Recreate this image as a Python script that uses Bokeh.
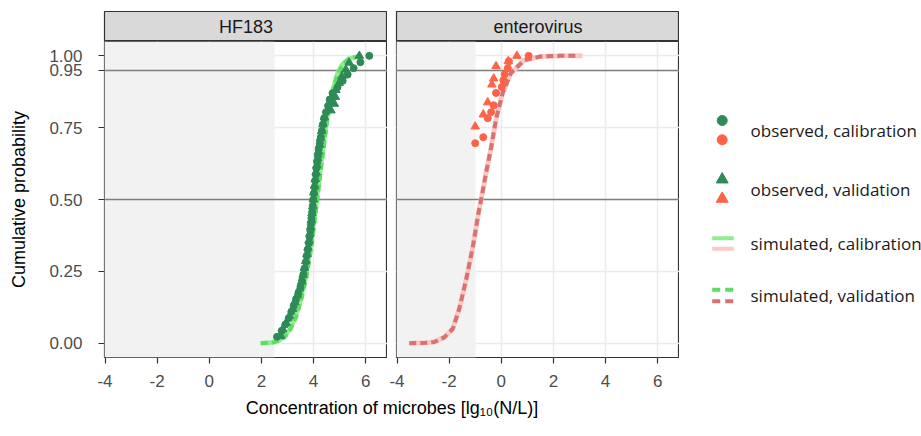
from math import pi
from bokeh.plotting import figure
from bokeh.layouts import row, column
from bokeh.models import Range1d, FixedTicker, PrintfTickFormatter
from bokeh.embed import file_html
from bokeh.resources import INLINE
from bokeh.core.properties import value

# ---------------- data ----------------
panel_titles = ["HF183", "enterovirus"]
lod = [2.5, -1.0]                      # limit of detection (shaded region)
x_ticks = [-4, -2, 0, 2, 4, 6]
x_tick_labels = ["-4", "-2", "0", "2", "4", "6"]
y_ticks = [0.0, 0.25, 0.5, 0.75, 0.95, 1.0]
ref_lines = [0.5, 0.95]
x_title = "Concentration of microbes [lg\u2081\u2080(N/L)]"
y_title = "Cumulative probability"
legend_labels = ["observed, calibration", "observed, validation",
                 "simulated, calibration", "simulated, validation"]

# HF183 observed, calibration (circles)
hf_cal_x = [2.60, 2.78, 2.92, 3.05, 3.15, 3.24, 3.33, 3.42, 3.50, 3.56, 3.61, 3.66,
            3.71, 3.74, 3.78, 3.82, 3.85, 3.88, 3.90, 3.92, 3.95, 3.97, 3.99, 4.02,
            4.04, 4.06, 4.09, 4.11, 4.14, 4.17, 4.20, 4.24, 4.28, 4.32, 4.36, 4.41,
            4.48, 4.56, 4.62, 4.73, 4.92, 5.12, 5.31, 5.54, 5.80, 6.14]
hf_cal_y = [0.022, 0.043, 0.065, 0.087, 0.109, 0.130, 0.152, 0.174, 0.196, 0.217,
            0.239, 0.261, 0.283, 0.304, 0.326, 0.348, 0.370, 0.391, 0.413, 0.435,
            0.457, 0.478, 0.500, 0.522, 0.543, 0.565, 0.587, 0.609, 0.630, 0.652,
            0.674, 0.696, 0.717, 0.739, 0.761, 0.783, 0.804, 0.826, 0.848, 0.870,
            0.891, 0.913, 0.935, 0.957, 0.978, 1.000]
# HF183 observed, validation (triangles)
hf_val_x = [2.75, 2.82, 2.95, 3.08, 3.20, 3.28, 3.38, 3.47, 3.55, 3.60, 3.65, 3.70,
            3.75, 3.79, 3.83, 3.86, 3.89, 3.92, 3.94, 3.97, 3.99, 4.01, 4.04, 4.07,
            4.10, 4.13, 4.16, 4.19, 4.23, 4.27, 4.31, 4.36, 4.42, 4.67, 4.80, 4.84,
            4.86, 4.98, 5.09, 5.24, 5.37, 5.76]
hf_val_y = [0.024, 0.048, 0.071, 0.095, 0.119, 0.143, 0.167, 0.190, 0.214, 0.238,
            0.262, 0.286, 0.310, 0.333, 0.357, 0.381, 0.405, 0.429, 0.452, 0.476,
            0.500, 0.524, 0.548, 0.571, 0.595, 0.619, 0.643, 0.667, 0.690, 0.714,
            0.738, 0.762, 0.786, 0.810, 0.833, 0.857, 0.881, 0.905, 0.929, 0.952,
            0.976, 1.000]
# HF183 simulated
hf_sim_cal_x = [1.96, 2.40, 2.70, 2.90, 3.10, 3.30, 3.50, 3.70, 3.90, 4.10, 4.30,
                4.50, 4.70, 4.90, 5.10, 5.35, 5.80]
hf_sim_cal_y = [0.000, 0.002, 0.010, 0.025, 0.050, 0.090, 0.150, 0.230, 0.340, 0.480,
                0.630, 0.770, 0.870, 0.935, 0.970, 0.990, 1.000]
hf_sim_val_x = [1.98, 2.42, 2.72, 2.93, 3.13, 3.33, 3.53, 3.73, 3.93, 4.12, 4.32,
                4.52, 4.72, 4.92, 5.12, 5.37, 5.82]
hf_sim_val_y = [0.000, 0.002, 0.010, 0.025, 0.050, 0.090, 0.150, 0.230, 0.340, 0.480,
                0.630, 0.770, 0.870, 0.935, 0.970, 0.990, 1.000]

# enterovirus observed
ev_cal_x = [-1.00, -0.69, -0.52, -0.39, -0.29, -0.20, 0.02, 0.08, 0.13, 0.25, 0.29, 1.05]
ev_cal_y = [0.696, 0.717, 0.783, 0.804, 0.828, 0.871, 0.892, 0.915, 0.936, 0.957, 0.981, 1.000]
ev_val_x = [-1.00, -0.69, -0.52, -0.36, -0.29, -0.20, 0.27, 0.60]
ev_val_y = [0.754, 0.796, 0.838, 0.900, 0.921, 0.964, 0.981, 1.000]
# enterovirus simulated
ev_sim_cal_x = [-3.53, -2.90, -2.57, -2.19, -1.86, -1.61, -1.35, -1.10, -0.88, -0.75,
                -0.59, -0.39, -0.20, 0.05, 0.37, 0.88, 1.52, 2.30, 3.12]
ev_sim_cal_y = [0.000, 0.001, 0.004, 0.020, 0.050, 0.120, 0.220, 0.330, 0.450, 0.510,
                0.590, 0.680, 0.780, 0.870, 0.940, 0.985, 0.998, 1.000, 1.000]
ev_sim_val_x = [-3.53, -2.90, -2.57, -2.19, -1.86, -1.61, -1.35, -1.10, -0.88, -0.75,
                -0.59, -0.39, -0.20, 0.05, 0.37, 0.88, 1.52, 2.30, 3.00]
ev_sim_val_y = [0.000, 0.001, 0.004, 0.020, 0.050, 0.120, 0.220, 0.330, 0.450, 0.510,
                0.590, 0.680, 0.780, 0.870, 0.940, 0.985, 0.998, 1.000, 1.000]

# ---------------- style ----------------
FONT = "Liberation Sans"
LFONT = "Open Sans"
X_LO, X_HI = -4.02, 6.84
Y_LO, Y_HI = -0.05, 1.05
GREEN_PT, RED_PT = "#2E8B57", "#FF6347"
GREEN_CAL, GREEN_VAL = "#90EE90", "#5FDD5F"
RED_CAL, RED_VAL = "#FFC6C6", "#D77272"
DASH = "7 4"
FRAME_W, FRAME_H = 283, 316
TOP = 11          # strip top (px)
YT_W = 36         # width of y-title canvas
LEFT_B = 68       # left border of left panel (axis)


def strip(title, left_border):
    s = figure(width=left_border + FRAME_W, height=41, min_border_left=left_border,
               min_border_right=0, min_border_top=TOP, min_border_bottom=0,
               x_range=Range1d(0, 1), y_range=Range1d(0, 1),
               x_axis_location=None, y_axis_location=None,
               toolbar_location=None, output_backend="svg")
    s.grid.visible = False
    s.background_fill_color = "#D9D9D9"
    s.outline_line_color = "#333333"
    s.outline_line_width = 1.2
    s.text(x=[0.5], y=[0.5], text=[title], text_align="center", text_baseline="middle",
           text_font=value(FONT), text_font_size="18px", text_color="#1A1A1A")
    return s


def panel(left_border, with_y, lodv):
    p = figure(width=left_border + FRAME_W, height=FRAME_H + 36,
               min_border_left=left_border, min_border_right=0,
               min_border_top=0, min_border_bottom=36,
               x_range=Range1d(X_LO, X_HI), y_range=Range1d(Y_LO, Y_HI),
               y_axis_location="left" if with_y else None,
               toolbar_location=None, output_backend="svg")
    p.background_fill_color = "white"
    p.outline_line_color = "#333333"
    p.outline_line_width = 1.2
    p.xgrid.ticker = FixedTicker(ticks=x_ticks)
    p.ygrid.ticker = FixedTicker(ticks=y_ticks)
    p.grid.grid_line_color = "#EBEBEB"
    p.grid.grid_line_width = 1.5
    p.grid.minor_grid_line_color = None
    for ax in p.axis:
        ax.axis_line_color = None
        ax.major_tick_out = 6
        ax.major_tick_in = 0
        ax.minor_tick_out = 0
        ax.minor_tick_in = 0
        ax.major_tick_line_color = "#333333"
        ax.major_tick_line_width = 1.2
        ax.major_label_text_font = FONT
        ax.major_label_text_font_size = "17px"
        ax.major_label_text_color = "#4D4D4D"
    p.xaxis.ticker = FixedTicker(ticks=x_ticks)
    p.xaxis.major_label_overrides = dict(zip(x_ticks, x_tick_labels))
    p.xaxis.major_label_standoff = 11
    if with_y:
        p.yaxis.ticker = FixedTicker(ticks=y_ticks)
        p.yaxis.formatter = PrintfTickFormatter(format="%.2f")
        p.yaxis.major_label_standoff = 16
    p.vstrip(x0=[X_LO], x1=[lodv], fill_color="#F2F2F2", line_color=None)
    p.hspan(y=ref_lines, line_color="#7F7F7F", line_width=1.5)
    return p


# left panel: HF183
pl = panel(LEFT_B, True, lod[0])
pl.line(hf_sim_cal_x, hf_sim_cal_y, line_color=GREEN_CAL, line_width=4.5)
pl.line(hf_sim_val_x, hf_sim_val_y, line_color=GREEN_VAL, line_width=4, line_dash=DASH)
pl.scatter(hf_cal_x, hf_cal_y, marker="circle", size=7, fill_color=GREEN_PT, line_color=GREEN_PT)
pl.scatter(hf_val_x, hf_val_y, marker="triangle", size=8.5, fill_color=GREEN_PT, line_color=GREEN_PT)

# right panel: enterovirus
pr = panel(9, False, lod[1])
pr.line(ev_sim_cal_x, ev_sim_cal_y, line_color=RED_CAL, line_width=5)
pr.line(ev_sim_val_x, ev_sim_val_y, line_color=RED_VAL, line_width=4, line_dash=DASH)
pr.scatter(ev_cal_x, ev_cal_y, marker="circle", size=7, fill_color=RED_PT, line_color=RED_PT)
pr.scatter(ev_val_x, ev_val_y, marker="triangle", size=8.5, fill_color=RED_PT, line_color=RED_PT)

sl = strip(panel_titles[0], LEFT_B)
sr = strip(panel_titles[1], 9)

# y title (centred on the panel rows, like ggplot)
YT_H = 41 + FRAME_H
yt = figure(width=YT_W, height=YT_H, min_border=0, x_range=Range1d(0, YT_W),
            y_range=Range1d(YT_H, 0), x_axis_location=None, y_axis_location=None,
            toolbar_location=None, output_backend="svg")
yt.grid.visible = False
yt.outline_line_color = None
yt.text(x=[18], y=[41 + FRAME_H / 2], text=[y_title], angle=pi / 2, text_align="center",
        text_baseline="middle", text_font=value(FONT), text_font_size="18px",
        text_color="black")

# x title
XT_H = 30
xt = figure(width=YT_W + LEFT_B + FRAME_W + 9 + FRAME_W, height=XT_H,
            min_border_left=YT_W + LEFT_B, min_border_right=0, min_border_top=0,
            min_border_bottom=0, x_range=Range1d(0, 1), y_range=Range1d(0, 1),
            x_axis_location=None, y_axis_location=None, toolbar_location=None,
            output_backend="svg")
xt.grid.visible = False
xt.outline_line_color = None
xt.text(x=[0.5], y=[0.53], text=[x_title], text_align="center", text_baseline="middle",
        text_font=value(FONT), text_font_size="18px", text_color="black")

# legend (own small canvas; coordinates are page pixels)
L_X0 = YT_W + LEFT_B + FRAME_W + 9 + FRAME_W
LW, LH = 921 - L_X0, 41 + FRAME_H + 36 + XT_H
lg = figure(width=LW, height=LH, min_border=0, x_range=Range1d(L_X0, L_X0 + LW),
            y_range=Range1d(LH, 0), x_axis_location=None, y_axis_location=None,
            toolbar_location=None, output_backend="svg")
lg.grid.visible = False
lg.outline_line_color = None
key_x, key_x0, key_x1, text_x = 721.7, 711.7, 733.3, 750
lg.scatter([key_x, key_x], [120, 139.3], marker="circle", size=10,
           fill_color=[GREEN_PT, RED_PT], line_color=[GREEN_PT, RED_PT])
lg.scatter([key_x, key_x], [179, 198.3], marker="triangle", size=12,
           fill_color=[GREEN_PT, RED_PT], line_color=[GREEN_PT, RED_PT])
lg.segment(x0=[key_x0, key_x0], x1=[key_x1, key_x1], y0=[237.7, 248.3], y1=[237.7, 248.3],
           line_color=[GREEN_CAL, RED_CAL], line_width=4)
lg.segment(x0=[key_x0, key_x0], x1=[key_x1, key_x1], y0=[289.3, 300.7], y1=[289.3, 300.7],
           line_color=[GREEN_VAL, RED_VAL], line_width=4, line_dash="8 5")
lg.text(x=[text_x] * 4, y=[129.5, 189, 243, 295], text=legend_labels,
        text_align="left", text_baseline="middle", text_font=value(LFONT),
        text_font_size="17px", text_color="#1A1A1A")

layout = row(
    column(row(yt, column(sl, pl), column(sr, pr)), xt),
    lg,
)

open("out.html", "w").write(file_html(layout, INLINE))
